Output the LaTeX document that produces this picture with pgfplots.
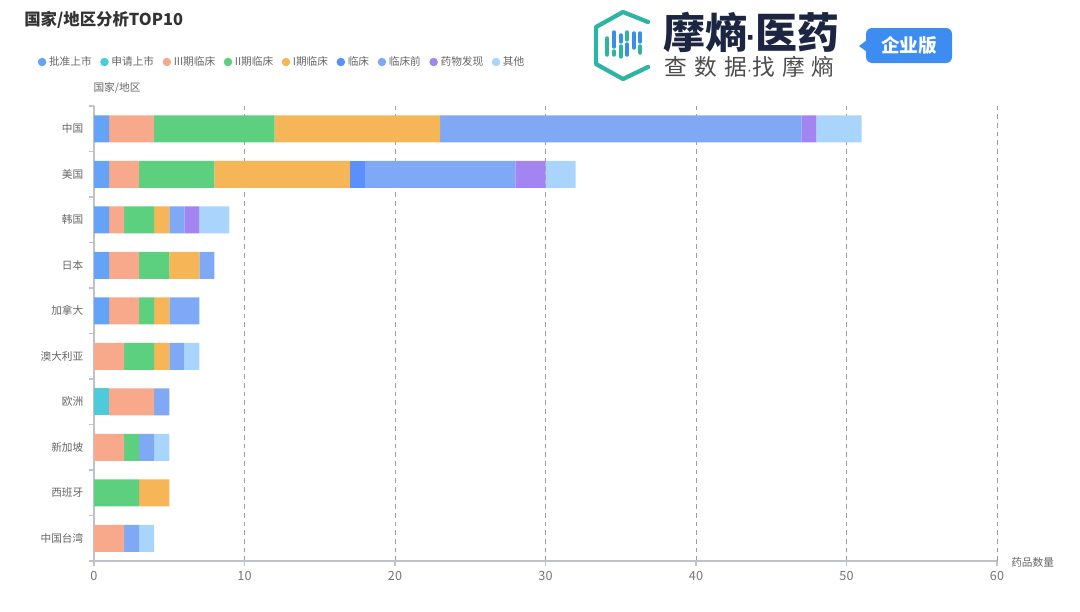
\documentclass[border=0pt]{standalone}
\usepackage{fontspec}
\setmainfont{Noto Sans CJK SC}
\newfontfamily\lat{Liberation Sans}
\usepackage{pgfplots}
\pgfplotsset{compat=1.18}
\usepackage{pgfplotstable}

\definecolor{cA}{HTML}{65A3F8}
\definecolor{cB}{HTML}{4DCBDB}
\definecolor{cC}{HTML}{F8A98B}
\definecolor{cD}{HTML}{5CD07F}
\definecolor{cE}{HTML}{F6B557}
\definecolor{cF}{HTML}{5B8FF9}
\definecolor{cG}{HTML}{80A9F5}
\definecolor{cH}{HTML}{A385F2}
\definecolor{cI}{HTML}{A9D5FD}
\definecolor{txt}{HTML}{666666}
\definecolor{axl}{HTML}{BFC3C9}
\definecolor{teal}{HTML}{2DB5A3}
\definecolor{logob}{HTML}{3A8EE6}
\definecolor{navy}{HTML}{1C2541}
\definecolor{badge}{HTML}{3D8CF2}

\pgfplotsset{dotlegend/.style={legend image code/.code={\fill[##1] (0pt,0pt) circle (3.2pt);}}}

% y: 9 China ... 0 Taiwan
\pgfplotstableread{
y ap sq p3 p2 p1 lc lcq yw qt
9 1 0 3 8 11 0 24 1 3
8 1 0 2 5 9 1 10 2 2
7 1 0 1 2 1 0 1 1 2
6 1 0 2 2 2 0 1 0 0
5 1 0 2 1 1 0 2 0 0
4 0 0 2 2 1 0 1 0 1
3 0 1 3 0 0 0 1 0 0
2 0 0 2 1 0 0 1 0 1
1 0 0 0 3 2 0 0 0 0
0 0 0 2 0 0 0 1 0 1
}\datatable

\begin{document}
\begin{tikzpicture}[x=0.75pt,y=-0.75pt]
\path[use as bounding box] (0,0) rectangle (1080,611);
\coordinate (axpos) at (94,561);

% title
\node[anchor=west,font=\fontsize{12.3}{13}\selectfont\bfseries,text=black!80,inner sep=0pt] at (24,20) {国家/地区分析TOP10};

% logo icon
\draw[teal,line width=3.2pt,line cap=round,line join=round]
  (648,22) -- (623,12) -- (596,27) -- (596,64) -- (623,79) -- (648,67);
\begin{scope}[line width=2.6pt,line cap=round]
\draw[teal] (607,38) -- (607,55);
\draw[logob] (614,32) -- (614,47); \draw[teal] (614,51) -- (614,55);
\draw[logob] (621,35) -- (621,42); \draw[teal] (621,46) -- (621,57);
\draw[teal] (627,32) -- (627,40); \draw[logob] (627,44) -- (627,55);
\draw[logob] (634,33) -- (634,48);
\draw[logob] (640,33) -- (640,42); \draw[teal] (640,46) -- (640,53);
\end{scope}
\node[anchor=west,font=\fontsize{31.5}{32}\selectfont\bfseries,text=navy,inner sep=0pt] at (663,32.5) {摩熵{\lat\fontsize{24}{24}\selectfont\kern-1pt·\kern-1pt}医药};
\node[anchor=west,font=\fontsize{17}{18}\selectfont\addfontfeatures{LetterSpace=32},text=black!70,inner sep=0pt] at (664,67) {查数据{\lat\fontsize{12}{12}\selectfont·}找摩熵};
\fill[badge,rounded corners=4.5pt] (866,28) rectangle (952,63);
\fill[badge] (867,40) -- (859,46) -- (867,52) -- cycle;
\node[font=\fontsize{14}{15}\selectfont\bfseries,text=white,inner sep=0pt] at (909,45.5) {企业版};

% axis labels
\node[font=\fontsize{8}{9}\selectfont,text=txt,inner sep=0pt] at (117,88) {国家/地区};
\node[anchor=west,font=\fontsize{8}{9}\selectfont,text=txt,inner sep=0pt] at (1011,562) {药品数量};

\begin{axis}[
  at={(axpos)}, anchor=south west,
  scale only axis, width=677.25pt, height=341.25pt,
  xbar stacked, bar width=20.25pt,
  xmin=0, xmax=60, ymin=-0.5, ymax=9.5,
  xtick={0,10,...,60},
  ytick={-0.5,0.5,...,9.5}, yticklabels={},
  extra y ticks={0,...,9},
  extra y tick labels={中国台湾,西班牙,新加坡,欧洲,澳大利亚,加拿大,日本,韩国,美国,中国},
  extra y tick style={major tick length=0pt, tick style={draw=none}, yticklabel style={xshift=-4.5pt}},
  axis x line*=bottom, axis y line*=left,
  x axis line style={-,draw=axl,line width=0.8pt},
  y axis line style={-,draw=axl,line width=0.8pt},
  tick align=outside, major tick length=4pt,
  tick style={draw=axl,line width=0.8pt},
  xmajorgrids=true,
  major x grid style={dash pattern=on 3.5pt off 3pt,draw=black!38,line width=0.6pt},
  ticklabel style={font=\fontsize{8}{9}\selectfont,text=txt},
  xticklabel style={font=\fontsize{9.5}{10}\selectfont,text=txt!90},
  /pgf/number format/assume math mode=true,
  legend style={draw=none,fill=none,inner sep=0pt,
    at={(-0.0625,1.0967)}, anchor=west,
    font=\fontsize{8}{9}\selectfont, text=txt,
    /tikz/every even column/.append style={column sep=4.4pt}},
  legend columns=-1,
  legend cell align=left,
]
\addplot[fill=cA,draw=none,dotlegend] table[x=ap,y=y]{\datatable};
\addplot[fill=cB,draw=none,dotlegend] table[x=sq,y=y]{\datatable};
\addplot[fill=cC,draw=none,dotlegend] table[x=p3,y=y]{\datatable};
\addplot[fill=cD,draw=none,dotlegend] table[x=p2,y=y]{\datatable};
\addplot[fill=cE,draw=none,dotlegend] table[x=p1,y=y]{\datatable};
\addplot[fill=cF,draw=none,dotlegend] table[x=lc,y=y]{\datatable};
\addplot[fill=cG,draw=none,dotlegend] table[x=lcq,y=y]{\datatable};
\addplot[fill=cH,draw=none,dotlegend] table[x=yw,y=y]{\datatable};
\addplot[fill=cI,draw=none,dotlegend] table[x=qt,y=y]{\datatable};
\legend{批准上市,申请上市,III期临床,II期临床,I期临床,临床,临床前,药物发现,其他}
\end{axis}
\end{tikzpicture}
\end{document}
